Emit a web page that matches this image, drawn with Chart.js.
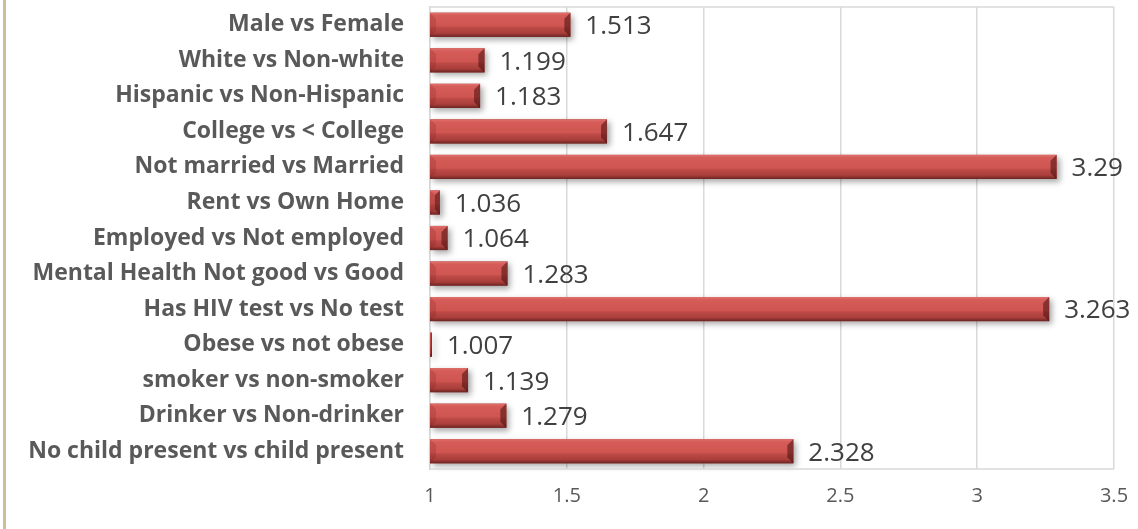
<!DOCTYPE html>
<html>
<head>
<meta charset="utf-8">
<script src="https://cdn.jsdelivr.net/npm/chart.js@4"></script>
<style>
html,body{margin:0;padding:0;background:#fff;}
#wrap{position:relative;width:1138px;height:529px;}
#edge{position:absolute;left:3px;top:0;width:3px;height:529px;background:#c8bf9b;}
canvas{position:absolute;left:0;top:0;}
</style>
</head>
<body>
<div id="wrap"><div id="edge"></div><canvas id="c" width="1138" height="529"></canvas></div>
<script>
const categories = [
  "Male vs Female",
  "White vs Non-white",
  "Hispanic vs Non-Hispanic",
  "College vs < College",
  "Not married vs Married",
  "Rent vs Own Home",
  "Employed vs Not employed",
  "Mental Health Not good vs Good",
  "Has HIV test vs No test",
  "Obese vs not obese",
  "smoker vs non-smoker",
  "Drinker vs Non-drinker",
  "No child present vs child present"
];
const oddsRatios = [1.513, 1.199, 1.183, 1.647, 3.29, 1.036, 1.064, 1.283, 3.263, 1.007, 1.139, 1.279, 2.328];
const valueLabels = ["1.513","1.199","1.183","1.647","3.29","1.036","1.064","1.283","3.263","1.007","1.139","1.279","2.328"];
const baseline = 1;
const xTicks = [1, 1.5, 2, 2.5, 3, 3.5];

const bevelPlugin = {
  id: 'bevel',
  beforeDatasetsDraw(chart) {
    const ctx = chart.ctx;
    const meta = chart.getDatasetMeta(0);
    ctx.save();
    meta.data.forEach(bar => {
      const l = Math.min(bar.base, bar.x), r = Math.max(bar.base, bar.x);
      const t = bar.y - bar.height / 2, h = bar.height;
      ctx.shadowColor = 'rgba(0,0,0,0.35)';
      ctx.shadowBlur = 6;
      ctx.shadowOffsetX = 3;
      ctx.shadowOffsetY = 3;
      ctx.fillStyle = '#9a3532';
      ctx.fillRect(l, t, r - l, h);
    });
    ctx.restore();
  },
  afterDatasetsDraw(chart) {
    const ctx = chart.ctx;
    const meta = chart.getDatasetMeta(0);
    ctx.save();
    meta.data.forEach((bar, i) => {
      const l = Math.min(bar.base, bar.x), r = Math.max(bar.base, bar.x);
      const t = bar.y - bar.height / 2, h = bar.height, b = t + h;
      const w = r - l;
      const bv = Math.min(6, w / 2);
      const g = ctx.createLinearGradient(0, t, 0, b);
      g.addColorStop(0, '#e0716d');
      g.addColorStop(0.12, '#d55c58');
      g.addColorStop(0.55, '#cf5551');
      g.addColorStop(0.62, '#bd4a46');
      g.addColorStop(0.85, '#a93e3b');
      g.addColorStop(1, '#6a2422');
      ctx.fillStyle = g;
      ctx.fillRect(l, t, w, h);
      // left bevel
      ctx.fillStyle = 'rgba(110,20,20,0.18)';
      ctx.beginPath();
      ctx.moveTo(l, t); ctx.lineTo(l + bv, t + bv); ctx.lineTo(l + bv, b - bv); ctx.lineTo(l, b); ctx.closePath();
      ctx.fill();
      // right bevel
      ctx.fillStyle = 'rgba(60,10,10,0.5)';
      ctx.beginPath();
      ctx.moveTo(r, t); ctx.lineTo(r, b); ctx.lineTo(r - bv, b - bv); ctx.lineTo(r - bv, t + bv); ctx.closePath();
      ctx.fill();
      // value label
      ctx.fillStyle = '#404040';
      ctx.font = '26px "Open Sans"';
      ctx.textAlign = 'left';
      ctx.textBaseline = 'middle';
      ctx.fillText(valueLabels[i], r + 15, bar.y + 2);
    });
    ctx.restore();
  }
};

new Chart(document.getElementById('c'), {
  type: 'bar',
  data: {
    labels: categories,
    datasets: [{
      data: oddsRatios.map(v => [baseline, v]),
      backgroundColor: 'rgba(0,0,0,0)',
      borderWidth: 0,
      barPercentage: 0.68,
      categoryPercentage: 1
    }]
  },
  options: {
    indexAxis: 'y',
    responsive: false,
    animation: false,
    devicePixelRatio: 1,
    layout: { padding: { left: 0, right: 24, top: 7, bottom: 0 } },
    plugins: { legend: { display: false }, tooltip: { enabled: false } },
    scales: {
      x: {
        min: 1, max: 3.5,
        afterBuildTicks(scale) { scale.ticks = xTicks.map(v => ({ value: v })); },
        grid: { color: '#d9d9d9', lineWidth: 1.5, drawTicks: false },
        border: { display: false },
        ticks: {
          color: '#595959',
          font: { family: '"Open Sans"', size: 20 },
          padding: 15,
          callback: v => String(v)
        },
        afterFit(scale) { scale.height = 60; scale.paddingLeft = 0; scale.paddingRight = 0; }
      },
      y: {
        grid: { display: false, drawTicks: false },
        border: { display: true, color: '#d9d9d9', width: 1.5 },
        ticks: {
          color: '#595959',
          font: { family: '"Open Sans"', size: 23, weight: 'bold' },
          padding: 26
        },
        afterFit(scale) { scale.width = 430; scale.paddingTop = 0; scale.paddingBottom = 0; }
      }
    }
  },
  plugins: [bevelPlugin, {
    id: 'frame',
    afterDraw(chart) {
      const a = chart.chartArea, ctx = chart.ctx;
      ctx.save();
      ctx.strokeStyle = '#d9d9d9';
      ctx.lineWidth = 1.5;
      ctx.beginPath();
      ctx.moveTo(a.left, a.top); ctx.lineTo(a.right, a.top);
      ctx.moveTo(a.left, a.bottom); ctx.lineTo(a.right, a.bottom);
      ctx.stroke();
      ctx.restore();
    }
  }]
});
</script>
</body>
</html>
